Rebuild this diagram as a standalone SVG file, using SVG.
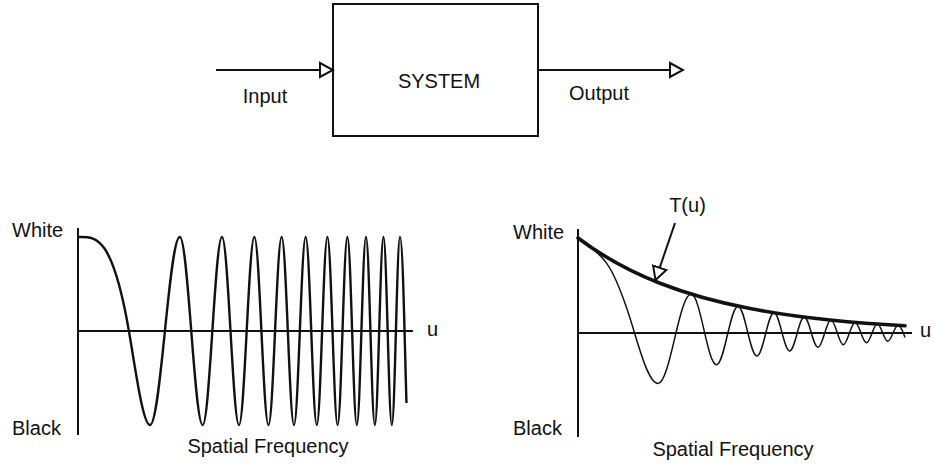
<svg xmlns="http://www.w3.org/2000/svg" width="934" height="467" viewBox="0 0 934 467">
<style>
text{font-family:"Liberation Sans",Arial,Helvetica,sans-serif;font-size:20px;fill:#111}
.ax{stroke:#111;stroke-width:2;fill:none}
.ln{stroke:#111;stroke-width:2;fill:none}
.wave{stroke:#111;stroke-width:2.4;fill:none;stroke-linejoin:round}
.thin{stroke:#111;stroke-width:1.5;fill:none}
.env{stroke:#111;stroke-width:3.6;fill:none;stroke-linecap:round}
</style>
<defs>
<marker id="oa" markerUnits="userSpaceOnUse" markerWidth="16" markerHeight="18" viewBox="-1 -2 16 18" refX="13" refY="7" orient="auto">
<path d="M0,0 L13,7 L0,14 Z" fill="#fff" stroke="#111" stroke-width="2" stroke-linejoin="miter"/>
</marker>
</defs>
<rect width="934" height="467" fill="#fff"/>

<g id="system">
<rect x="333" y="4" width="205" height="132" fill="#fff" stroke="#111" stroke-width="2"/>
<text x="439" y="88" text-anchor="middle">SYSTEM</text>
</g>
<g id="input-label"><text x="265" y="103" text-anchor="middle">Input</text></g>
<g id="output-label"><text x="599" y="100" text-anchor="middle">Output</text></g>

<g id="connectors">
<line class="ln" x1="216" y1="70" x2="333" y2="70" marker-end="url(#oa)"/>
<line class="ln" x1="538" y1="70" x2="683" y2="70" marker-end="url(#oa)"/>
<line class="ln" x1="675" y1="223" x2="655.5" y2="280" marker-end="url(#oa)"/>
</g>

<g id="input-graph">
<line class="ax" x1="78" y1="228" x2="78" y2="435"/>
<line class="ax" x1="78" y1="331" x2="413" y2="331"/>
<path class="wave" d="M78,237 C94.97,237 111.93,232.6 128.9,331 C135.93,371.8 142.97,425 150,425
C160.85,425 168.97,237 179.82,237
C188.15,237 194.38,425 202.71,425
C209.73,425 214.98,237 222,237
C228.19,237 232.81,425 239,425
C244.59,425 248.77,237 254.36,237
C259.5,237 263.35,425 268.49,425
C273.28,425 276.86,237 281.65,237
C286.15,237 289.5,425 294,425
C298.25,425 301.43,237 305.68,237
C309.73,237 312.75,425 316.8,425
C320.67,425 323.55,237 327.42,237
C331.13,237 333.89,425 337.6,425
C341.17,425 343.83,237 347.4,237
C350.84,237 353.41,425 356.85,425
C360.18,425 362.67,237 366,237
C369.22,237 371.64,425 374.86,425
C378,425 380.34,237 383.47,237
C386.52,237 388.79,425 391.84,425
C394.81,425 397.02,237 399.99,237
C403,237 405,360 406.5,403"/>
<text x="12" y="237">White</text>
<text x="12" y="435">Black</text>
<text x="427" y="336">u</text>
<text x="268" y="453" text-anchor="middle">Spatial Frequency</text>
</g>

<g id="output-graph">
<line class="ax" x1="578" y1="229" x2="578" y2="437"/>
<line class="ax" x1="578" y1="333" x2="912" y2="333"/>
<path class="thin" d="M578,238 C587.33,245 596.67,249.87 606,262.4 C615.52,275.19 625.05,300.87 634.57,333 C642.38,359.36 650.19,383.5 658,383.5
C670.06,383.5 679.08,294.1 691.14,294.1
C700.39,294.1 707.31,364.8 716.56,364.8
C724.36,364.8 730.2,306.2 738,306.2
C744.88,306.2 750.01,356.1 756.89,356.1
C763.1,356.1 767.75,312.8 773.96,312.8
C779.67,312.8 783.95,350.9 789.66,350.9
C794.98,350.9 798.95,317.1 804.27,317.1
C809.27,317.1 813,347.3 818,347.3
C822.72,347.3 826.26,320.1 830.98,320.1
C835.48,320.1 838.83,344.7 843.33,344.7
C847.63,344.7 850.83,322.4 855.13,322.4
C859.25,322.4 862.32,342.7 866.44,342.7
C870.4,342.7 873.37,324.1 877.33,324.1
C881.16,324.1 884.01,341.2 887.84,341.2
C891.54,341.2 894.3,325.4 898,325.4
C900.5,325.4 903.5,333 905,337.4"/>
<path class="env" d="M578,238 C605.33,258.51 632.67,272.57 660,283.3 C690,295.08 720,302.79 750,308.58 C776.67,313.72 803.33,317.29 830,320.02 C855,322.58 880,324.4 905,325.82"/>
<text x="513" y="239">White</text>
<text x="513" y="435">Black</text>
<text x="920" y="337">u</text>
<text x="733" y="456" text-anchor="middle">Spatial Frequency</text>
<text x="687.5" y="212" text-anchor="middle">T(u)</text>
</g>
</svg>
